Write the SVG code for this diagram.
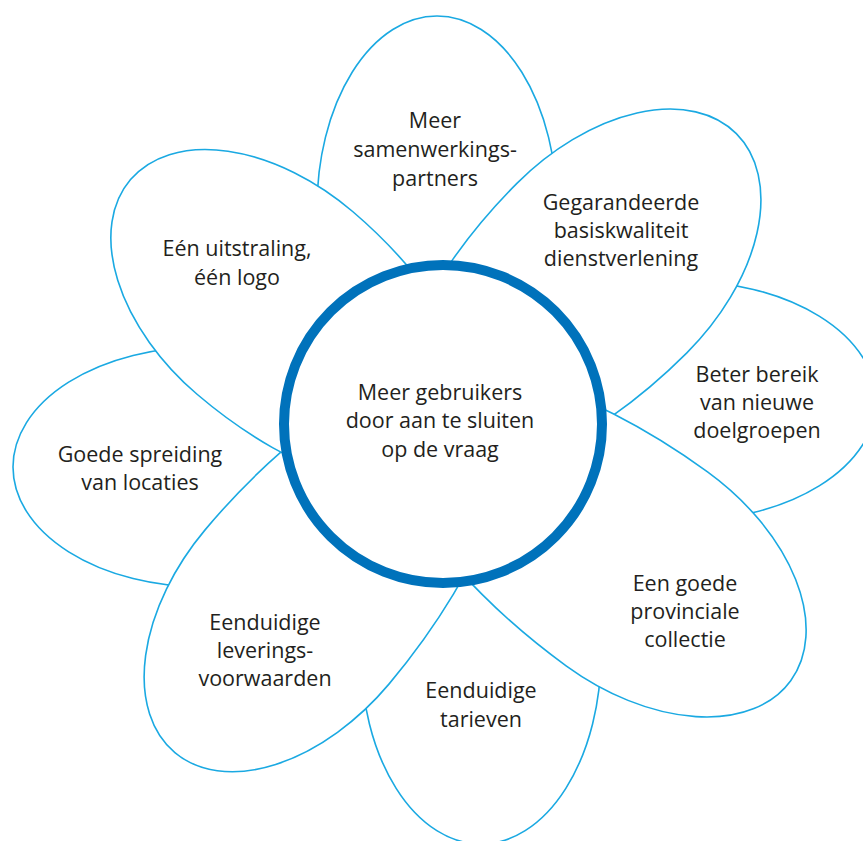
<svg xmlns="http://www.w3.org/2000/svg" width="863" height="841" viewBox="0 0 863 841">
<defs>
<style>
.petal{fill:#fff;stroke:#1aa9e2;stroke-width:1.6}
.hub{fill:#fff;stroke:#0072bb;stroke-width:10}
text{font-family:"Open Sans","Liberation Sans",sans-serif;font-size:21.5px;fill:#231f20;text-anchor:middle}
</style>
</defs>
<rect width="863" height="841" fill="#fff"/>
<g id="petal-n">
<path class="petal" transform="translate(437,208) rotate(-90)" d="M0,-120 A192,120 0 0 1 0,120 A300,120 0 0 1 0,-120Z"/>
<text x="435" y="128">Meer</text>
<text x="435" y="157">samenwerkings-</text>
<text x="435" y="186">partners</text>
</g>
<g id="petal-e">
<path class="petal" transform="translate(682,401) rotate(0)" d="M0,-120 A194,120 0 0 1 0,120 A300,120 0 0 1 0,-120Z"/>
<text x="757" y="382">Beter bereik</text>
<text x="757" y="410">van nieuwe</text>
<text x="757" y="438">doelgroepen</text>
</g>
<g id="petal-s">
<path class="petal" transform="translate(481,654) rotate(90)" d="M0,-120 A190,120 0 0 1 0,120 A300,120 0 0 1 0,-120Z"/>
<text x="481" y="698">Eenduidige</text>
<text x="481" y="727">tarieven</text>
</g>
<g id="petal-w">
<path class="petal" transform="translate(203,467) rotate(180)" d="M0,-120 A190,120 0 0 1 0,120 A300,120 0 0 1 0,-120Z"/>
<text x="140" y="462">Goede spreiding</text>
<text x="140" y="490">van locaties</text>
</g>
<g id="petal-ne">
<path class="petal" transform="translate(602,268) rotate(-45)" d="M0,-120 A190,120 0 0 1 0,120 A270,120 0 0 1 0,-120Z"/>
<text x="621" y="210">Gegarandeerde</text>
<text x="621" y="238">basiskwaliteit</text>
<text x="621" y="266">dienstverlening</text>
</g>
<g id="petal-se">
<path class="petal" transform="translate(637,569) rotate(36)" d="M0,-120 A190,120 0 0 1 0,120 A300,120 0 0 1 0,-120Z"/>
<text x="685" y="591">Een goede</text>
<text x="685" y="619">provinciale</text>
<text x="685" y="647">collectie</text>
</g>
<g id="petal-sw">
<path class="petal" transform="translate(297,607) rotate(130)" d="M0,-120 A190,120 0 0 1 0,120 A300,120 0 0 1 0,-120Z"/>
<text x="265" y="630">Eenduidige</text>
<text x="265" y="658">leverings-</text>
<text x="265" y="686">voorwaarden</text>
</g>
<g id="petal-nw">
<path class="petal" transform="translate(275,303) rotate(220.5)" d="M0,-120 A190,120 0 0 1 0,120 A250,120 0 0 1 0,-120Z"/>
<text x="237" y="256">Eén uitstraling,</text>
<text x="237" y="285">één logo</text>
</g>
<g id="center">
<circle class="hub" cx="443" cy="424" r="159"/>
<text x="440" y="400">Meer gebruikers</text>
<text x="440" y="428">door aan te sluiten</text>
<text x="440" y="457">op de vraag</text>
</g>
</svg>
